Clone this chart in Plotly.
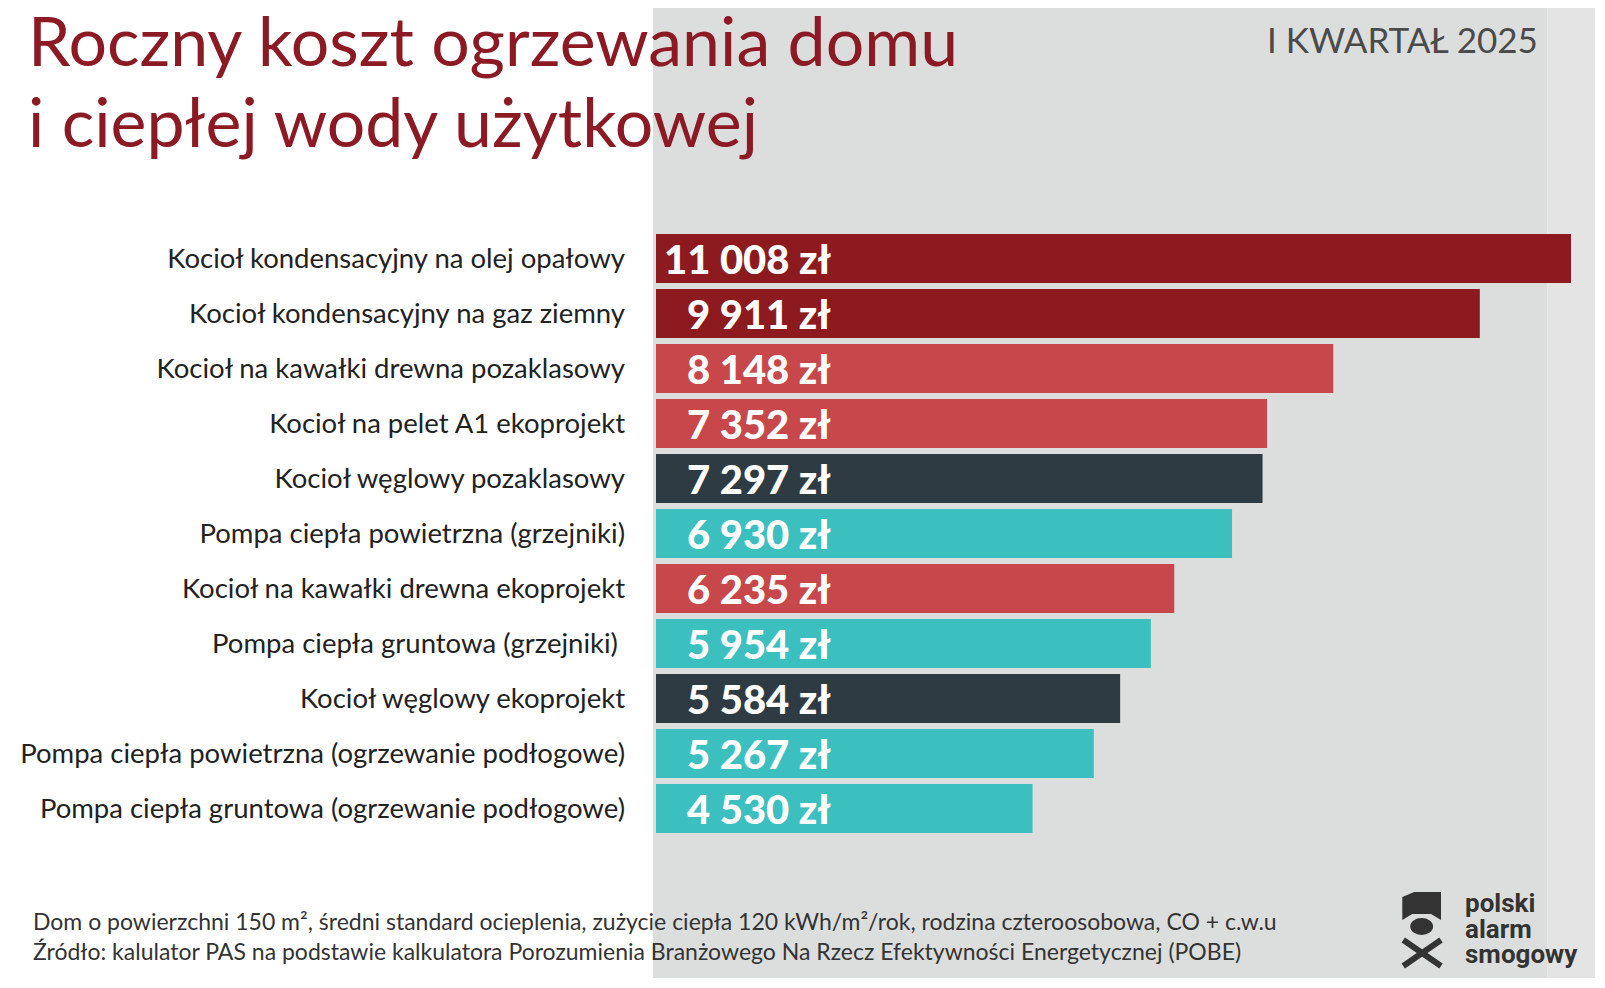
import plotly.graph_objects as go

# dane
rodzaje = [
    "Kocioł kondensacyjny na olej opałowy",
    "Kocioł kondensacyjny na gaz ziemny",
    "Kocioł na kawałki drewna pozaklasowy",
    "Kocioł na pelet A1 ekoprojekt",
    "Kocioł węglowy pozaklasowy",
    "Pompa ciepła powietrzna (grzejniki)",
    "Kocioł na kawałki drewna ekoprojekt",
    "Pompa ciepła gruntowa (grzejniki) ",
    "Kocioł węglowy ekoprojekt",
    "Pompa ciepła powietrzna (ogrzewanie podłogowe)",
    "Pompa ciepła gruntowa (ogrzewanie podłogowe)",
]
koszt = [11008, 9911, 8148, 7352, 7297, 6930, 6235, 5954, 5584, 5267, 4530]
grupa = ["olej_gaz", "olej_gaz", "drewno", "drewno", "wegiel",
         "pompa", "drewno", "pompa", "wegiel", "pompa", "pompa"]

kolory = {
    "olej_gaz": "#8c1a1e",
    "drewno": "#c8474a",
    "wegiel": "#2f3b43",
    "pompa": "#3cbfbf",
}

# strona ma margines 8 px z każdej strony, figura musi się zmieścić bez przewijania
OFF = 8
W, H = 1605 - 2 * OFF - 2, 988 - 2 * OFF - 2
L = 649 - OFF
T = 231 - OFF
R = W - (1571 - OFF)
B = H - (836 - OFF)


# przeliczenie pikseli ekranu na współrzędne "paper"
def px(x):
    return (x - OFF - L) / (W - L - R)


def py(y):
    return (H - B - (y - OFF)) / (H - T - B)


fig = go.Figure()

fig.add_trace(go.Bar(
    x=koszt,
    y=rodzaje,
    orientation="h",
    marker=dict(color=[kolory[g] for g in grupa], line=dict(width=0)),
    hoverinfo="x+y",
))

# etykiety wartości wewnątrz słupków
for r, k in zip(rodzaje, koszt):
    fig.add_annotation(
        x=px(827), xref="paper", y=r, yref="y",
        text=f"{k:,} zł".replace(",", " "),
        showarrow=False, xanchor="right",
        font=dict(family="Lato", size=40, color="white", weight=900),
    )

# tło: szary pas po prawej
shapes = [
    dict(type="rect", xref="paper", yref="paper", x0=px(646), x1=px(1547),
         y0=py(1000), y1=py(0), fillcolor="#dcdedd", line_width=0, layer="below"),
    dict(type="rect", xref="paper", yref="paper", x0=px(1547), x1=px(1620),
         y0=py(1000), y1=py(0), fillcolor="#e3e4e3", line_width=0, layer="below"),
]

# logo (uproszczone)
ikona = "#333333"
shapes += [
    dict(type="path", xref="paper", yref="paper",
         path=f"M {px(1401)} {py(897)} L {px(1413)} {py(892)} L {px(1440)} {py(892)} "
              f"L {px(1440)} {py(920)} L {px(1430)} {py(914)} L {px(1411)} {py(914)} "
              f"L {px(1401)} {py(920)} Z",
         fillcolor=ikona, line_width=0),
    dict(type="circle", xref="paper", yref="paper",
         x0=px(1409), x1=px(1432), y0=py(918), y1=py(935),
         fillcolor=ikona, line_width=0),
    dict(type="line", xref="paper", yref="paper",
         x0=px(1402), x1=px(1440), y0=py(940), y1=py(966),
         line=dict(color=ikona, width=6)),
    dict(type="line", xref="paper", yref="paper",
         x0=px(1440), x1=px(1402), y0=py(940), y1=py(966),
         line=dict(color=ikona, width=6)),
]

adnotacje = [
    dict(text="Roczny koszt ogrzewania domu", x=px(14), y=py(39), yanchor="middle",
         xanchor="left", font=dict(family="Lato", size=68, color="#8c1a24")),
    dict(text="i ciepłej wody użytkowej", x=px(14), y=py(120), yanchor="middle",
         xanchor="left", font=dict(family="Lato", size=68, color="#8c1a24")),
    dict(text="I KWARTAŁ 2025", x=px(1540), y=py(39), yanchor="middle",
         xanchor="right", font=dict(family="Lato", size=35, color="#4a4a4a")),
    dict(text="Dom o powierzchni 150 m², średni standard ocieplenia, zużycie ciepła 120 kWh/m²/rok, "
              "rodzina czteroosobowa, CO + c.w.u",
         x=px(19), y=py(921), yanchor="middle", xanchor="left",
         font=dict(family="Lato", size=23, color="#333333")),
    dict(text="Źródło: kalulator PAS na podstawie kalkulatora Porozumienia Branżowego Na Rzecz "
              "Efektywności Energetycznej (POBE)",
         x=px(19), y=py(951), yanchor="middle", xanchor="left",
         font=dict(family="Lato", size=23, color="#333333")),
]
for i, slowo in enumerate(["polski", "alarm", "smogowy"]):
    adnotacje.append(dict(
        text=slowo, x=px(1462), y=py(903 + 25.5 * i), yanchor="middle", xanchor="left",
        font=dict(family="Roboto", size=26, color="#333333", weight="bold")))

for a in adnotacje:
    fig.add_annotation(xref="paper", yref="paper", showarrow=False, **a)

fig.update_layout(
    width=W, height=H,
    margin=dict(l=L, r=R, t=T, b=B),
    paper_bgcolor="white",
    plot_bgcolor="rgba(0,0,0,0)",
    bargap=0.11,
    showlegend=False,
    shapes=shapes,
    xaxis=dict(range=[0, 11008], visible=False, fixedrange=True),
    yaxis=dict(autorange="reversed", showgrid=False, zeroline=False, showline=False,
               ticks="", ticklabelstandoff=30,
               tickfont=dict(family="Lato", size=27.5, color="#222222")),
    font=dict(family="Lato"),
)

fig.write_html("out.html")
